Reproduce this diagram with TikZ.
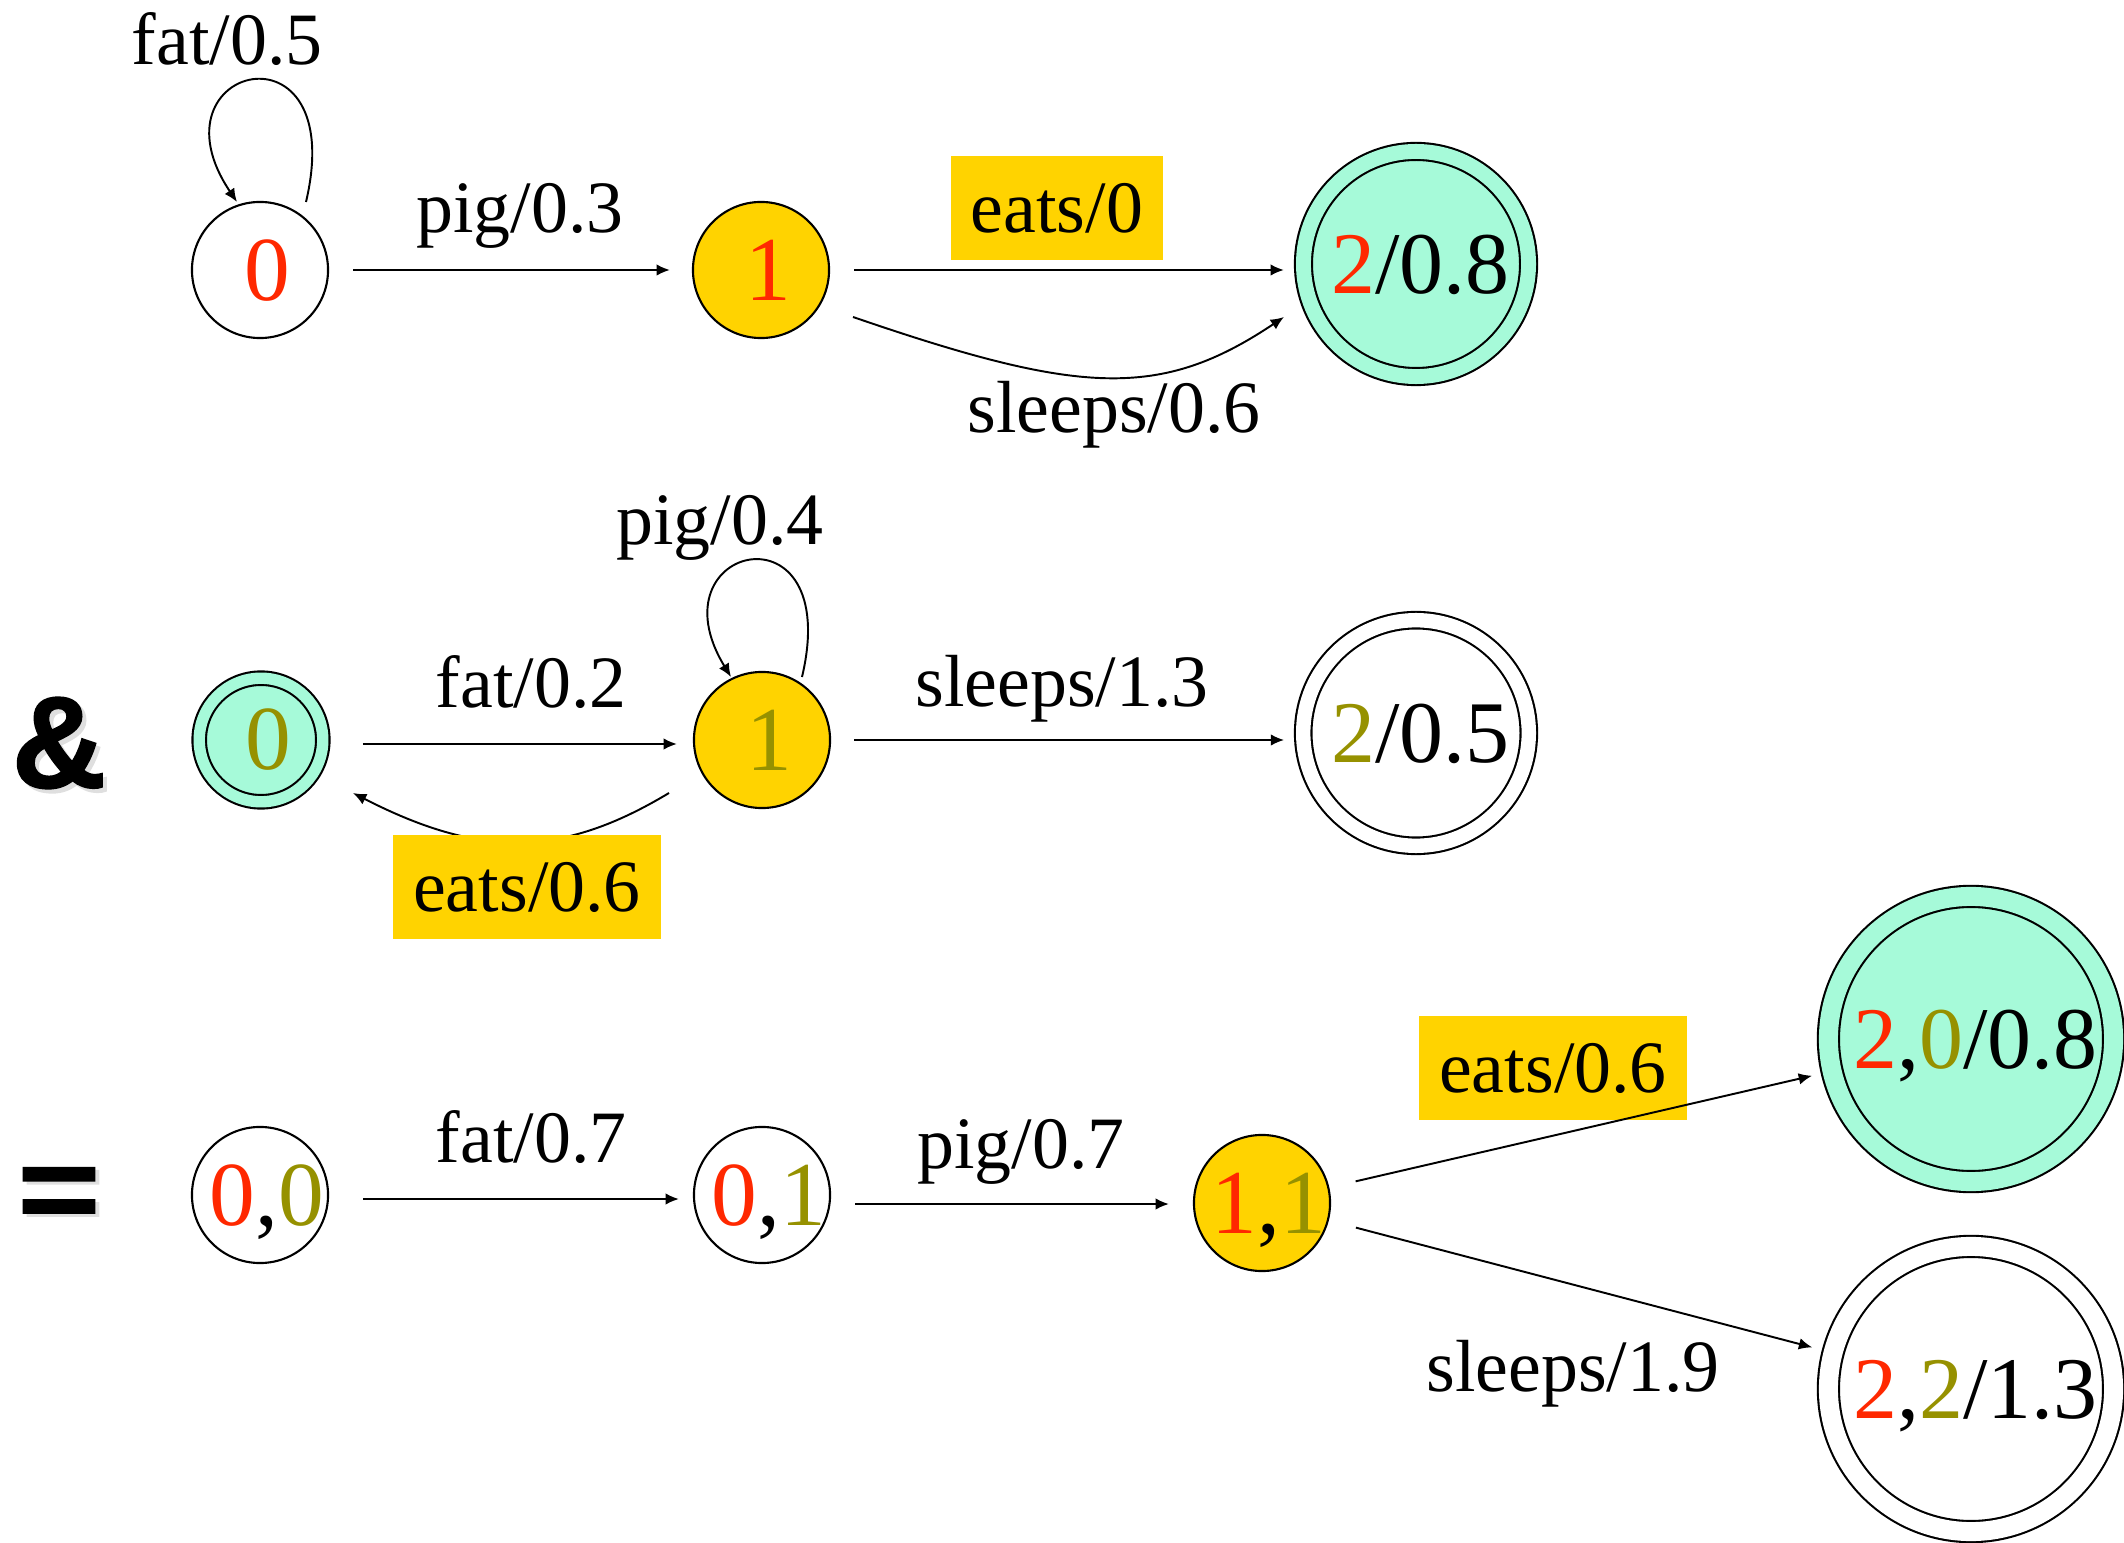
\documentclass[tikz,border=0pt]{standalone}
\usepackage{fontspec}
\setmainfont{Liberation Serif}
\newfontfamily\symfont[FakeBold=1.5]{Liberation Sans Bold}
\usetikzlibrary{arrows.meta,calc}
\definecolor{cred}{RGB}{255,40,0}
\definecolor{colive}{RGB}{150,145,0}
\definecolor{cyel}{RGB}{255,211,0}
\definecolor{caqua}{RGB}{166,250,217}
\newcommand{\stxt}[2][0.14cm]{\makebox[0pt]{\hspace*{#1}#2}}
\begin{document}
\begin{tikzpicture}[x=0.01cm,y=-0.01cm,
  state/.style={circle,draw,line width=0.6pt,inner sep=0pt,minimum size=1.36cm,
    font=\fontsize{26}{30}\selectfont,text height=17.6pt,text depth=0pt},
  bigstate/.style={state,minimum size=#1,font=\fontsize{25}{30}\selectfont,text height=17pt},
  lbl/.style={font=\fontsize{21}{25}\selectfont,anchor=base,inner sep=0pt},
  hbox/.style={fill=cyel,inner sep=0pt,font=\fontsize{21}{25}\selectfont},
  arr/.style={-{Latex[length=3.8pt,width=3.3pt]},line width=0.55pt},
  bigsym/.style={font=\symfont\fontsize{#1}{#1}\selectfont,inner sep=0pt}
]
\useasboundingbox (0,0) rectangle (2124,1543);

% ---------- row 1 ----------
\node[state] (n0) at (260,270) {\stxt{\textcolor{cred}{0}}};
\node[state,fill=cyel] (n1) at (761,270) {\stxt{\textcolor{cred}{1}}};
\node[bigstate=2.25cm,fill=caqua,double=caqua,double distance=0.149cm] (n2) at (1416,264) {\stxt[0.09cm]{\textcolor{cred}{2}/0.8}};

\draw[arr,shorten <=0.24cm,shorten >=0.22cm] (n0) -- (n1);
\draw[arr,shorten <=0.24cm,shorten >=0.185cm] (n1) -- (n1 -| n2.west);
\draw[arr] ($(n1)+(92,47)$) .. controls ($(n1)+(319,125)$) and ($(n2)+(-256,136)$) .. ($(n2)+(-132,53)$);
\draw[arr] ($(n0)+(46,-68)$) .. controls ($(n0)+(90,-255)$) and ($(n0)+(-115,-205)$) .. ($(n0)+(-23,-68)$);

\node[lbl] (l1) at (227,65) {fat/0.5};
\node[lbl] (l2) at (520,233) {pig/0.3};
\node[hbox,minimum width=2.11cm,minimum height=1.04cm] (l3) at (1057,208) {eats/0};
\node[lbl] (l4) at (1114,433) {sleeps/0.6};

% ---------- row 2 ----------
\node[bigsym=37,text=gray!25] (ampsh) at (63,747) {\&};
\node[bigsym=37] (amp) at (59,743) {\&};

\node[bigstate=1.235cm,fill=caqua,double=caqua,double distance=0.114cm,font=\fontsize{26}{30}\selectfont] (m0) at (261,740) {\stxt{\textcolor{colive}{0}}};
\node[state,fill=cyel] (m1) at (762,740) {\stxt{\textcolor{colive}{1}}};
\node[bigstate=2.255cm,double,double distance=0.144cm] (m2) at (1416,733) {\stxt[0.09cm]{\textcolor{colive}{2}/0.5}};

\draw[arr] ($(m0.east)+(39,4)$) -- ($(m1.west)+(-16,4)$);
\draw[arr,shorten <=0.23cm,shorten >=0.18cm] (m1) -- (m1 -| m2.west);
\draw[arr] ($(m1)+(-93,53)$) .. controls ($(m1)+(-201,118)$) and ($(m0)+(219,118)$) .. ($(m0)+(92,53)$);
\draw[arr] ($(m1)+(40,-63)$) .. controls ($(m1)+(82,-240)$) and ($(m1)+(-112,-196)$) .. ($(m1)+(-31,-63)$);

\node[lbl] (k1) at (531,708) {fat/0.2};
\node[lbl] (k2) at (720,545) {pig/0.4};
\node[hbox,minimum width=2.67cm,minimum height=1.03cm] (k3) at (527,887) {eats/0.6};
\node[lbl] (k4) at (1062,707) {sleeps/1.3};

% ---------- row 3 ----------
\node[bigsym=40,text=gray!25,anchor=base] (eqsh) at (63,1233) {\scalebox{1}[0.85]{=}};
\node[bigsym=40,anchor=base] (eq) at (59,1230) {\scalebox{1}[0.85]{=}};

\node[state] (p00) at (260,1195) {\stxt{\textcolor{cred}{0},\textcolor{colive}{0}}};
\node[state] (p01) at (762,1195) {\stxt{\textcolor{cred}{0},\textcolor{colive}{1}}};
\node[state,fill=cyel] (p11) at (1262,1203) {\stxt{\textcolor{cred}{1},\textcolor{colive}{1}}};
\node[bigstate=2.85cm,fill=caqua,double=caqua,double distance=0.19cm] (p20) at (1971,1039) {\stxt[0.09cm]{\textcolor{cred}{2},\textcolor{colive}{0}/0.8}};
\node[bigstate=2.85cm,double,double distance=0.19cm] (p22) at (1971,1389) {\stxt[0.09cm]{\textcolor{cred}{2},\textcolor{colive}{2}/1.3}};

\draw[arr] ($(p00.east)+(34,4)$) -- ($(p01.west)+(-14,4)$);
\draw[arr] ($(p01.east)+(24,9)$) -- ($(p11.west)+(-24,1)$);

\node[hbox,minimum width=2.68cm,minimum height=1.03cm] (j3) at (1553,1068) {eats/0.6};
\draw[arr,shorten <=0.27cm,shorten >=0.195cm] (p11) -- (p20);
\draw[arr,shorten <=0.28cm,shorten >=0.205cm] (p11) -- (p22);

\node[lbl] (j1) at (531,1162) {fat/0.7};
\node[lbl] (j2) at (1021,1168) {pig/0.7};
\node[lbl] (j4) at (1573,1391) {sleeps/1.9};
\end{tikzpicture}
\end{document}
